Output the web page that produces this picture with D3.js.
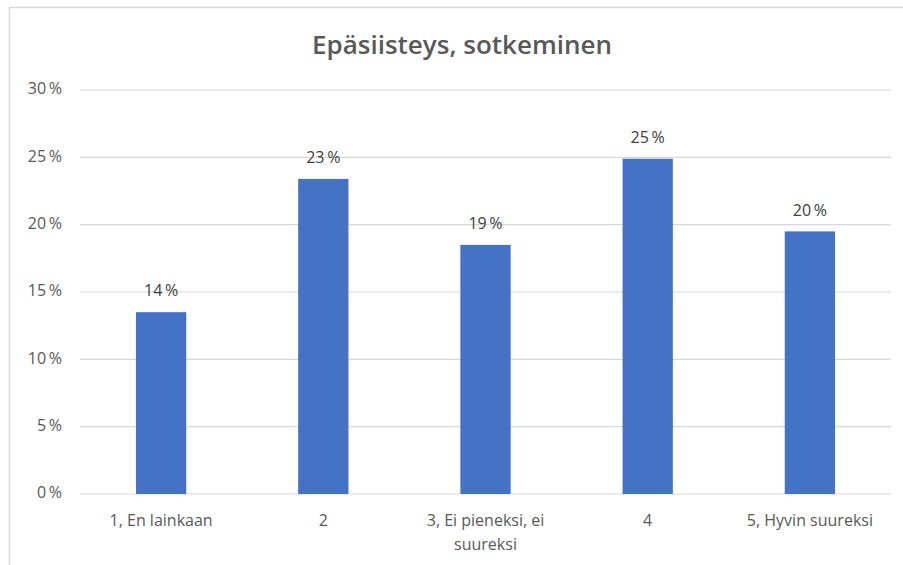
<!DOCTYPE html>
<html>
<head>
<meta charset="utf-8">
<script src="https://cdn.jsdelivr.net/npm/d3@7"></script>
<style>
body { margin: 0; background: #fff; }
svg { display: block; }
text { font-family: "Open Sans", "Noto Sans", sans-serif; fill: #595959; }
</style>
</head>
<body>
<svg></svg>
<script>
const width = 903;
const height = 565;
const margin = {top: 90, right: 12, bottom: 71, left: 80};
const barColor = '#4472c4';

// data
const categories = ['1, En lainkaan', '2', '3, Ei pieneksi, ei suureksi', '4', '5, Hyvin suureksi'];
const values = [13.5, 23.4, 18.5, 24.9, 19.5];
const labels = ['14 %', '23 %', '19 %', '25 %', '20 %'];
const yTicks = [0, 5, 10, 15, 20, 25, 30];
const title = 'Epäsiisteys, sotkeminen';

var svg = d3.select('svg').attr('width', width).attr('height', height);

// frame of the chart area (only top and left edges show)
svg.append('path')
.attr('d', 'M9.5,' + height + 'V7.5H' + width)
.style('fill', 'none').style('stroke', '#d9d9d9').style('stroke-width', 1.5);

var x = d3.scaleBand()
.domain(categories)
.range([margin.left, width - margin.right])
.paddingInner(0.69).paddingOuter(0.345);

var y = d3.scaleLinear()
.domain([0, 30])
.range([height - margin.bottom, margin.top]);

// gridlines
svg.append('g').selectAll('line')
.data(yTicks)
.enter().append('line')
.attr('x1', margin.left).attr('x2', width - margin.right)
.attr('y1', d => y(d)).attr('y2', d => y(d))
.style('stroke', '#d9d9d9').style('stroke-width', 1.2);

// y tick labels
svg.append('g').selectAll('text')
.data(yTicks)
.enter().append('text')
.attr('x', 62).attr('y', d => y(d))
.attr('dominant-baseline', 'middle')
.attr('text-anchor', 'end')
.style('font-size', '16px')
.text(d => d + '\u2009%');

// bars
svg.append('g').selectAll('rect')
.data(values)
.enter().append('rect')
.attr('x', (d, i) => x(categories[i]))
.attr('width', x.bandwidth())
.attr('y', d => y(d))
.attr('height', d => y(0) - y(d))
.style('fill', barColor);

// value labels
svg.append('g').selectAll('text')
.data(values)
.enter().append('text')
.attr('x', (d, i) => x(categories[i]) + x.bandwidth() / 2)
.attr('y', d => y(d) - 20)
.attr('dominant-baseline', 'middle')
.attr('text-anchor', 'middle')
.style('font-size', '16px')
.style('fill', '#404040')
.text((d, i) => labels[i].replace(' ', '\u2009'));

// category labels, wrapped like the original
var lines = {'3, Ei pieneksi, ei suureksi': ['3, Ei pieneksi, ei', 'suureksi']};
var cat = svg.append('g').selectAll('text')
.data(categories)
.enter().append('text')
.attr('x', d => x(d) + x.bandwidth() / 2)
.attr('y', y(0) + 28)
.attr('dominant-baseline', 'middle')
.attr('text-anchor', 'middle')
.style('font-size', '16px');
cat.each(function(d){
	var parts = lines[d] || [d];
	var t = d3.select(this);
	parts.forEach((p, k) => {
		t.append('tspan')
		.attr('x', x(d) + x.bandwidth() / 2)
		.attr('dy', k == 0 ? 0 : 24)
		.text(p);
	});
});

// title
svg.append('text')
.attr('x', 462).attr('y', 47)
.attr('dominant-baseline', 'middle')
.attr('text-anchor', 'middle')
.style('font-size', '26px')
.style('font-weight', 600)
.text(title);
</script>
</body>
</html>
